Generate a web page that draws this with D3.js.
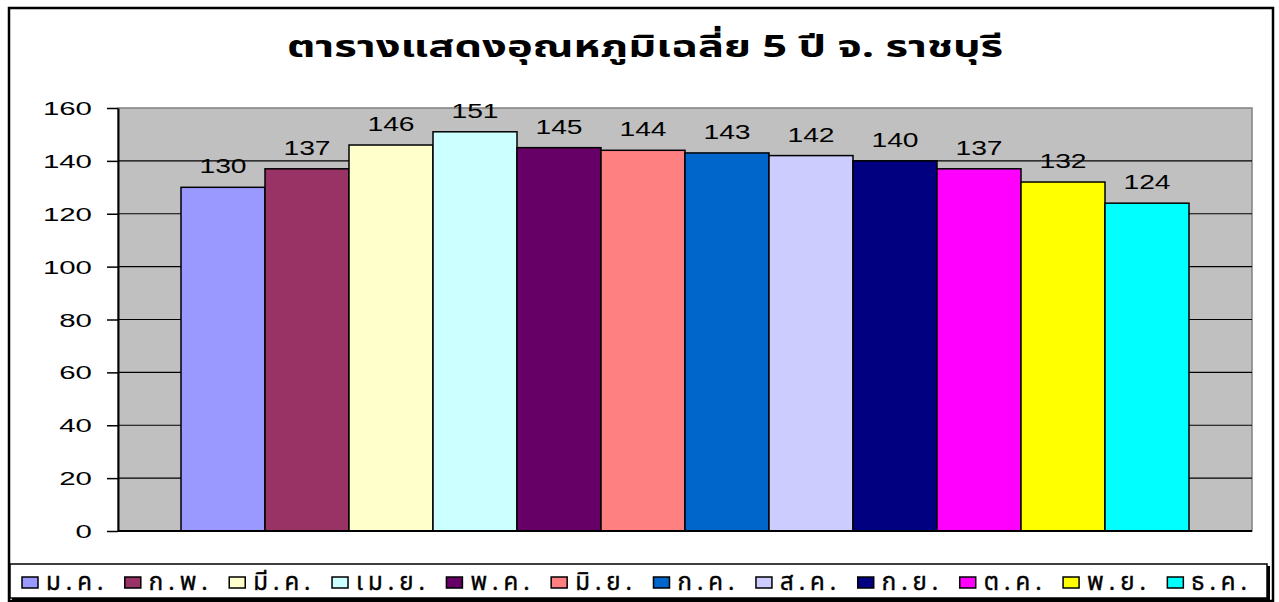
<!DOCTYPE html>
<html><head><meta charset="utf-8">
<script src="https://cdn.jsdelivr.net/npm/d3@7"></script>
<style>
html,body{margin:0;padding:0;background:#fff;}
svg{display:block;}
</style></head>
<body>
<svg id="c" width="1279" height="602"></svg>
<script>
const title = "ตารางแสดงอุณหภูมิเฉลี่ย 5 ปี จ. ราชบุรี";
const months = ["ม.ค.","ก.พ.","มี.ค.","เม.ย.","พ.ค.","มิ.ย.","ก.ค.","ส.ค.","ก.ย.","ต.ค.","พ.ย.","ธ.ค."];
const values = [130,137,146,151,145,144,143,142,140,137,132,124];
const colors = ["#9999FF","#993366","#FFFFCC","#CCFFFF","#660066","#FF8080","#0066CC","#CCCCFF","#000080","#FF00FF","#FFFF00","#00FFFF"];
const yTicks = [0,20,40,60,80,100,120,140,160];

const svg = d3.select("#c");
const thaiFont = "Tahoma, 'Noto Sans Thai', 'Noto Sans', 'DejaVu Sans', sans-serif";
const numFont = "'Liberation Sans', Arial, sans-serif";

// outer frame
svg.append("rect").attr("x",9).attr("y",8).attr("width",1264).attr("height",593)
  .attr("fill","#fff").attr("stroke","#000").attr("stroke-width",2.5);

const plot = {l:118, t:108, r:1252, b:531};
const y = d3.scaleLinear().domain([0,160]).range([plot.b, plot.t]);
// Excel gap width 150%: group of 12 bars, 0.75 bar each side
const bw = (plot.r - plot.l) / 13.5;
const xb = d3.scaleBand().domain(months).range([plot.l + 0.75*bw, plot.r - 0.75*bw]).padding(0);

svg.append("rect").attr("x",plot.l).attr("y",plot.t).attr("width",plot.r-plot.l).attr("height",plot.b-plot.t)
  .attr("fill","#C0C0C0").attr("stroke","#808080").attr("stroke-width",1.5);

// gridlines
svg.append("g").selectAll("line").data(yTicks.filter(d=>d>0 && d<160)).join("line")
  .attr("x1",plot.l).attr("x2",plot.r).attr("y1",d=>y(d)).attr("y2",d=>y(d))
  .attr("stroke","#000").attr("stroke-width",1.2);

// y axis
const yAxis = d3.axisLeft(y).tickValues(yTicks).tickSize(11).tickSizeOuter(0).tickPadding(0).tickFormat("");
const ga = svg.append("g").attr("transform",`translate(${plot.l},0)`).call(yAxis);
ga.select(".domain").attr("stroke","#000").attr("stroke-width",2);
ga.selectAll(".tick line").attr("stroke","#000").attr("stroke-width",1.5);

svg.append("g").selectAll("text").data(yTicks).join("text")
  .attr("transform",d=>`translate(92,${y(d)+7}) scale(1.55,1)`)
  .attr("text-anchor","end").attr("font-family",numFont).attr("font-size",19).attr("fill","#000")
  .text(d=>d);

// bars
svg.append("g").selectAll("rect").data(values).join("rect")
  .attr("x",(d,i)=>xb(months[i])).attr("width",xb.bandwidth())
  .attr("y",d=>y(d)).attr("height",d=>y(0)-y(d))
  .attr("fill",(d,i)=>colors[i]).attr("stroke","#000").attr("stroke-width",1.5);

// bottom axis line
svg.append("line").attr("x1",plot.l).attr("x2",plot.r).attr("y1",plot.b).attr("y2",plot.b)
  .attr("stroke","#000").attr("stroke-width",2);

// data labels
svg.append("g").selectAll("text").data(values).join("text")
  .attr("transform",(d,i)=>`translate(${xb(months[i])+xb.bandwidth()/2},${y(d)-14}) scale(1.45,1)`)
  .attr("text-anchor","middle").attr("font-family",numFont).attr("font-size",19.5).attr("fill","#000")
  .text(d=>d);

// title
svg.append("text").attr("transform","translate(645,57) scale(1.45,1)").attr("text-anchor","middle")
  .attr("font-family",thaiFont).attr("font-weight","bold").attr("font-size",30).attr("fill","#000")
  .text(title);

// legend
svg.append("rect").attr("x",12).attr("y",566).attr("width",1258).attr("height",34).attr("fill","#000");
svg.append("rect").attr("x",10).attr("y",564).attr("width",1257).attr("height",34)
  .attr("fill","#fff").attr("stroke","#000").attr("stroke-width",1.5);

const lg = svg.append("g");
const items = lg.selectAll("g").data(months).join("g");
items.append("rect").attr("width",16).attr("height",11).attr("y",577)
  .attr("fill",(d,i)=>colors[i]).attr("stroke","#000").attr("stroke-width",1.5);
items.append("text").attr("y",590).attr("font-family",thaiFont).attr("font-size",24)
  .attr("letter-spacing",5).attr("fill","#000").attr("stroke","#000").attr("stroke-width",0.4).text(d=>d);
// layout legend items based on text widths, spanning the legend box
const widths = [];
items.select("text").each(function(){widths.push(this.getComputedTextLength());});
const gapSq = 8, startX = 22, endX = 1252;
const gapItem = ((endX - startX) - d3.sum(widths) - months.length*(16+gapSq)) / (months.length-1);
let cx = startX;
items.each(function(d,i){
  const g = d3.select(this);
  g.select("rect").attr("x",cx);
  g.select("text").attr("x",cx+16+gapSq);
  cx += 16+gapSq+widths[i]+gapItem;
});
</script>
</body></html>
